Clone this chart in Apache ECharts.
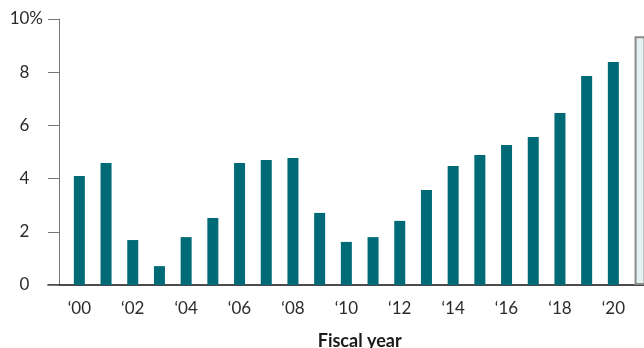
<!DOCTYPE html>
<html>
<head>
<meta charset="utf-8">
<script src="https://cdn.jsdelivr.net/npm/echarts@6/dist/echarts.min.js"></script>
<style>html,body{margin:0;padding:0;background:#fff;}#c{width:644px;height:348px;}</style>
</head>
<body>
<div id="c"></div>
<script>
// Fiscal years (two-digit labels)
const categories = ['00','01','02','03','04','05','06','07','08','09','10','11','12','13','14','15','16','17','18','19','20','21'];
// Actual values, % (2000-2020)
const actualValues = [4.10, 4.59, 1.69, 0.71, 1.80, 2.52, 4.59, 4.70, 4.77, 2.71, 1.62, 1.80, 2.41, 3.57, 4.47, 4.89, 5.26, 5.56, 6.47, 7.86, 8.38];
// Projected value, % (2021)
const projectedValues = [9.35];
// Y-axis ticks
const yTicks = [0, 2, 4, 6, 8, 10];

const FONT = 'Lato';
const FS = 17;
const barData = actualValues.map(v => ({ value: v }));
projectedValues.forEach(v => barData.push({
  value: v,
  itemStyle: { color: '#e3f2f0', borderColor: '#8a8a8a', borderWidth: 2 }
}));

const chart = echarts.init(document.getElementById('c'), null, { renderer: 'canvas' });
chart.setOption({
  animation: false,
  grid: [
    { left: 66, top: 19, width: 587.4, height: 266, outerBoundsMode: 'none', containLabel: false },
    { left: 48, top: 19, width: 620, height: 266, outerBoundsMode: 'none', containLabel: false }
  ],
  xAxis: [
    {
      type: 'category', gridIndex: 0,
      data: categories.map(c => '\u2018' + c),
      axisLine: { show: false },
      axisTick: { show: false },
      axisLabel: { interval: 1, margin: 15, color: '#2b2b2b', fontFamily: FONT, fontSize: FS },
      name: 'Fiscal year', nameLocation: 'middle', nameGap: 47,
      nameTextStyle: { color: '#1a1a1a', fontFamily: FONT, fontSize: 18, fontWeight: 'bold' }
    },
    {
      type: 'value', gridIndex: 1, min: 0, max: 1,
      axisLine: { show: true, lineStyle: { color: '#111', width: 1.5 } },
      axisTick: { show: false }, axisLabel: { show: false }, splitLine: { show: false }
    }
  ],
  yAxis: [
    {
      type: 'value', gridIndex: 0, min: yTicks[0], max: yTicks[yTicks.length - 1], interval: 2,
      offset: 7,
      axisLine: { show: true, lineStyle: { color: '#777', width: 1 } },
      axisTick: { show: true, length: 11, lineStyle: { color: '#777', width: 1 } },
      splitLine: { show: false },
      axisLabel: {
        margin: 16, fontFamily: FONT, fontSize: FS, color: '#2b2b2b',
        formatter: v => v === 10 ? '{n|' + v + '}{p|%}' : '{n|' + v + '}{h|%}',
        rich: {
          n: { fontFamily: FONT, fontSize: FS, color: '#2b2b2b' },
          p: { fontFamily: FONT, fontSize: FS, color: '#2b2b2b' },
          h: { fontFamily: FONT, fontSize: FS, color: 'rgba(0,0,0,0)' }
        }
      }
    },
    { type: 'value', gridIndex: 1, min: 0, max: 10, show: false }
  ],
  series: [
    {
      type: 'bar', xAxisIndex: 0, yAxisIndex: 0,
      data: barData, barWidth: 11,
      itemStyle: { color: '#006b77' }
    }
  ]
});
</script>
</body>
</html>
